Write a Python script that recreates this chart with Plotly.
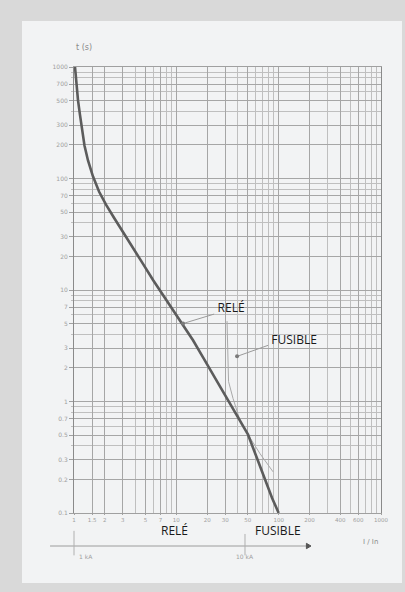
import plotly.graph_objects as go

# ---- data ----
rele_I = [1.023, 1.058, 1.094, 1.145, 1.197, 1.266, 1.370, 1.534, 1.756, 2.055, 2.460, 3.013,
          3.774, 4.726, 5.919, 7.413, 9.284, 11.63, 14.56, 18.24, 22.84, 27.98, 34.25, 41.95,
          50.22, 60.13, 72.0, 86.2, 100.0]
rele_t = [1000, 688, 504, 370, 271, 198, 145, 104, 76.4, 58.3, 44.5, 33.3,
          23.9, 17.15, 12.31, 9.02, 6.60, 4.94, 3.54, 2.49, 1.75, 1.256, 0.920, 0.674,
          0.504, 0.326, 0.211, 0.1365, 0.1]

fus_I = [31.3, 31.66, 32.38, 35.84, 41.95, 50.22, 65.8, 88.2]
fus_t = [5.26, 2.82, 1.51, 1.064, 0.674, 0.504, 0.340, 0.234]

y_ticks = [0.1, 0.2, 0.3, 0.5, 0.7, 1, 2, 3, 5, 7, 10, 20, 30, 50, 70, 100, 200, 300, 500, 700, 1000]
y_ticktext = ["0.1", "0.2", "0.3", "0.5", "0.7", "1", "2", "3", "5", "7", "10", "20", "30", "50", "70",
              "100", "200", "300", "500", "700", "1000"]
x_ticks = [1, 1.5, 2, 3, 5, 7, 10, 20, 30, 50, 100, 200, 400, 600, 1000]
x_ticktext = ["1", "1.5", "2", "3", "5", "7", "10", "20", "30", "50", "100", "200", "400", "600", "1000"]

minor_vals = [m * 10 ** e for e in range(-1, 4) for m in range(1, 10)]

rele_label = "RELÉ"
fus_label = "FUSIBLE"
rele_label_pos = (34.3, 6.74)
fus_label_pos = (141.4, 3.47)
rele_leader_I = [11.63, 23.4]
rele_leader_t = [5.0, 6.08]
fus_leader_I = [39.2, 78.8]
fus_leader_t = [2.54, 3.19]

GRID_MAJ = "#a6a6a6"
GRID_MIN = "#bfbfbf"
TICK_COL = "#a0a0a0"
PANEL = "#f2f3f4"

fig = go.Figure()

fig.add_trace(go.Scatter(x=fus_I, y=fus_t, mode="lines",
                         line=dict(color="#a9a9a9", width=1), hoverinfo="skip"))
fig.add_trace(go.Scatter(x=rele_I, y=rele_t, mode="lines",
                         line=dict(color="#5c5c5c", width=2.6), hoverinfo="skip"))

# leaders with dots
for xs, ys in [(rele_leader_I, rele_leader_t), (fus_leader_I, fus_leader_t)]:
    fig.add_trace(go.Scatter(x=xs, y=ys, mode="lines", line=dict(color="#9a9a9a", width=1),
                             hoverinfo="skip"))
    fig.add_trace(go.Scatter(x=[xs[0]], y=[ys[0]], mode="markers",
                             marker=dict(color="#7a7a7a", size=4), hoverinfo="skip"))

fig.add_trace(go.Scatter(x=[rele_label_pos[0], fus_label_pos[0]],
                         y=[rele_label_pos[1], fus_label_pos[1]],
                         mode="text", text=[rele_label, fus_label],
                         textfont=dict(family="Open Sans", size=12, color="#1a1a1a"),
                         hoverinfo="skip"))

fig.update_xaxes(type="log", range=[0, 3.0], showgrid=True, gridcolor=GRID_MAJ, gridwidth=1,
                 tickvals=x_ticks, ticktext=x_ticktext, ticks="outside", ticklen=1,
                 tickcolor=TICK_COL, tickfont=dict(size=5.5, color=TICK_COL, family="DejaVu Sans"),
                 showline=True, linecolor="#a0a0a0", mirror=True, zeroline=False,
                 minor=dict(tickvals=minor_vals, showgrid=True, gridcolor=GRID_MIN, gridwidth=1))
fig.update_yaxes(type="log", range=[-1, 3.0], showgrid=True, gridcolor=GRID_MAJ, gridwidth=1,
                 tickvals=y_ticks, ticktext=y_ticktext, ticks="outside", ticklen=4,
                 tickcolor=TICK_COL, tickfont=dict(size=6, color=TICK_COL, family="DejaVu Sans"),
                 showline=True, linecolor="#8a8a8a", mirror=True, zeroline=False,
                 minor=dict(tickvals=minor_vals, showgrid=True, gridcolor=GRID_MIN, gridwidth=1,
                            ticks="outside", ticklen=2, tickcolor=GRID_MIN))

shapes = [
    dict(type="rect", xref="paper", yref="paper", x0=-0.1694, x1=1.0684, y0=-0.157, y1=1.1031,
         fillcolor=PANEL, line=dict(width=0), layer="below"),
    # bottom current arrow
    dict(type="line", xref="paper", yref="paper", x0=-0.078, x1=0.765, y0=-0.074, y1=-0.074,
         line=dict(color="#9c9c9c", width=1)),
    dict(type="path", xref="paper", yref="paper",
         path="M 0.757 -0.068 L 0.772 -0.074 L 0.757 -0.080 Z",
         fillcolor="#555555", line=dict(color="#555555", width=1)),
    dict(type="line", xref="paper", yref="paper", x0=0.0, x1=0.0, y0=-0.040, y1=-0.095,
         line=dict(color="#b0b0b0", width=1)),
    dict(type="line", xref="paper", yref="paper", x0=0.557, x1=0.557, y0=-0.047, y1=-0.095,
         line=dict(color="#b0b0b0", width=1)),
]

annotations = [
    dict(text="t (s)", xref="paper", yref="paper", x=0.0, y=1.058, showarrow=False,
         font=dict(size=8, color="#8a8a8a", family="DejaVu Sans"), xanchor="left"),
    dict(text=rele_label, xref="paper", yref="paper", x=0.280, y=-0.0605, showarrow=False,
         borderpad=0, font=dict(size=12, color="#1a1a1a", family="Open Sans")),
    dict(text=fus_label, xref="paper", yref="paper", x=0.6645, y=-0.0605, showarrow=False,
         borderpad=0, font=dict(size=12, color="#1a1a1a", family="Open Sans")),
    dict(text="1 kA", xref="paper", yref="paper", x=0.01, y=-0.11, showarrow=False,
         font=dict(size=6, color="#a0a0a0", family="DejaVu Sans")),
    dict(text="10 kA", xref="paper", yref="paper", x=0.557, y=-0.11, showarrow=False,
         font=dict(size=6, color="#a0a0a0", family="DejaVu Sans")),
    dict(text="I / In", xref="paper", yref="paper", x=0.997, y=-0.079, showarrow=False,
         font=dict(size=7, color="#8a8a8a", family="DejaVu Sans")),
]

fig.update_layout(
    width=405, height=592,
    margin=dict(l=74, r=24, t=67, b=79, autoexpand=False),
    paper_bgcolor="#d9d9d9", plot_bgcolor=PANEL,
    showlegend=False, shapes=shapes, annotations=annotations,
)

fig.write_html("out.html", config={"displayModeBar": False},
               post_script="document.body.style.margin='0px';document.body.style.padding='0px';")
